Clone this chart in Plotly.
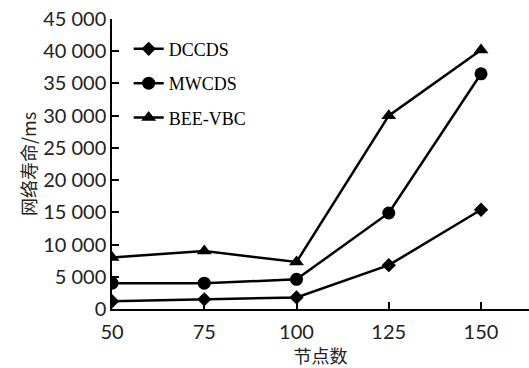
import plotly.graph_objects as go

nodes = [50, 75, 100, 125, 150]
dccds = [1200, 1500, 1800, 6800, 15400]
mwcds = [4000, 4000, 4600, 14900, 36500]
bee_vbc = [8000, 9000, 7300, 30000, 40200]

y_ticks = [0, 5000, 10000, 15000, 20000, 25000, 30000, 35000, 40000, 45000]
y_labels = ["0", "5 000", "10 000", "15 000", "20 000", "25 000", "30 000", "35 000", "40 000", "45 000"]
x_ticks = [50, 75, 100, 125, 150]

fig = go.Figure()
series = [("DCCDS", dccds, "diamond", 11), ("MWCDS", mwcds, "circle", 13), ("BEE-VBC", bee_vbc, "triangle-up", 13)]
for name, vals, sym, sz in series:
    fig.add_trace(go.Scatter(x=nodes, y=vals, name=name, mode="lines+markers", legendgroup=name,
                             line=dict(color="black", width=2.5),
                             marker=dict(symbol=sym, size=sz, color="black")))

tick_font = dict(family="Lato, DejaVu Sans, sans-serif", size=20, color="#222")
fig.update_layout(
    width=529, height=368,
    margin=dict(l=112, r=0, t=19, b=59),
    paper_bgcolor="white", plot_bgcolor="white",
    showlegend=True,
    legend=dict(x=0.04, y=0.96, xanchor="left", yanchor="top",
                font=dict(family="Liberation Serif, Times New Roman, serif", size=18, color="black"),
                bgcolor="rgba(0,0,0,0)", tracegroupgap=8, itemwidth=30),
    xaxis=dict(range=[50, 163], tickvals=x_ticks, ticktext=[str(v) for v in x_ticks],
               ticks="inside", ticklen=7, tickwidth=1.5, tickcolor="black",
               showline=True, linecolor="black", linewidth=1.5, showgrid=False, zeroline=False,
               tickfont=tick_font, ticklabelstandoff=4,
               title=dict(text="节点数", font=dict(family="Noto Sans CJK SC", size=18, color="#222"), standoff=0)),
    yaxis=dict(range=[0, 45000], tickvals=y_ticks, ticktext=y_labels,
               ticks="inside", ticklen=7, tickwidth=1.5, tickcolor="black",
               showline=True, linecolor="black", linewidth=1.5, showgrid=False, zeroline=False,
               tickfont=tick_font,
               title=dict(text="网络寿命/ms", font=dict(family="Noto Sans CJK SC", size=18, color="#222"), standoff=2)),
)
fig.write_html("out.html")
